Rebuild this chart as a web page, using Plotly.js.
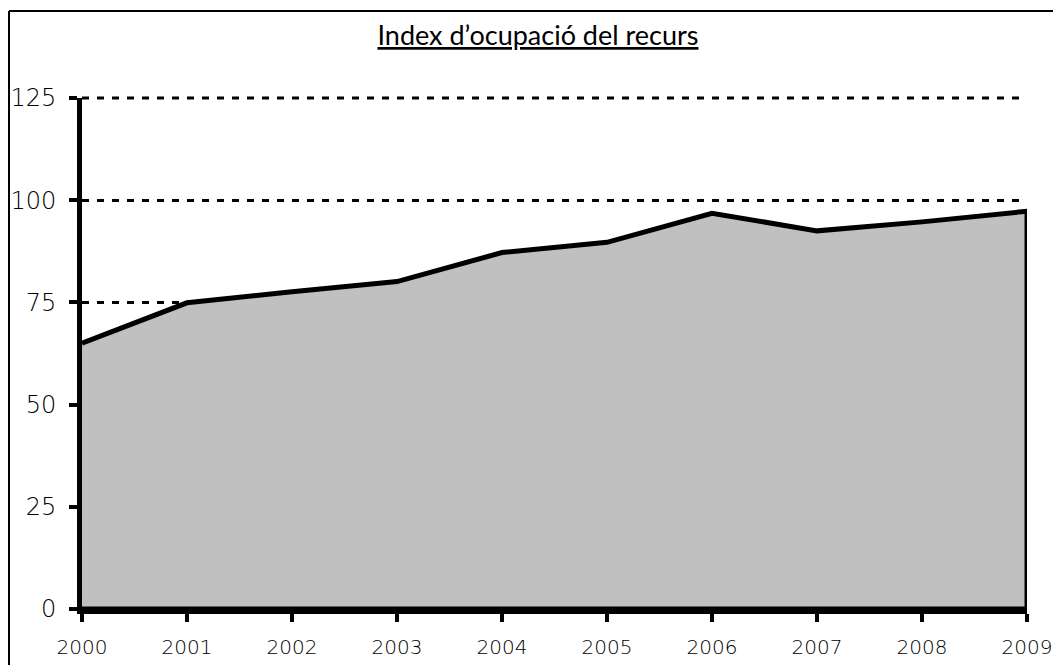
<!DOCTYPE html>
<html>
<head>
<meta charset="utf-8">
<script src="https://cdn.plot.ly/plotly-3.0.1.min.js"></script>
<style>html,body{margin:0;padding:0;background:#fff;}#chart{width:1053px;height:665px;}</style>
</head>
<body>
<div id="chart"></div>
<script>
const years = [2000, 2001, 2002, 2003, 2004, 2005, 2006, 2007, 2008, 2009];
const occupancy = [65, 74.9, 77.6, 80.1, 87.2, 89.7, 96.8, 92.5, 94.7, 97.3];
const yTicks = [0, 25, 50, 75, 100, 125];
const chartTitle = "Index d’ocupació del recurs";

const polyX = years.concat([years[years.length - 1], years[0]]);
const polyY = occupancy.concat([0, 0]);

const trace = {
  x: polyX,
  y: polyY,
  type: 'scatter',
  mode: 'lines',
  fill: 'toself',
  fillcolor: '#c0c0c0',
  line: {color: '#000', width: 5, shape: 'linear'},
  hoverinfo: 'skip'
};

const titleFont = 'Lato, "Open Sans", sans-serif';
const tickFont = '"DejaVu Sans", sans-serif';
const yMax = yTicks[yTicks.length - 1];

const layout = {
  width: 1053,
  height: 665,
  margin: {l: 82, r: 26, t: 98, b: 56, pad: 0},
  paper_bgcolor: '#fff',
  plot_bgcolor: '#fff',
  font: {color: '#000'},
  showlegend: false,
  title: {
    text: chartTitle,
    x: 0.4825, xref: 'paper', xanchor: 'center',
    y: 1 - 45 / 665, yref: 'container', yanchor: 'bottom',
    font: {family: titleFont, size: 27, color: '#000', lineposition: 'under'}
  },
  xaxis: {
    range: [2000, 2009],
    tickvals: years,
    ticktext: years.map(String),
    showgrid: false,
    zeroline: false,
    showline: true,
    linecolor: '#000',
    linewidth: 5,
    ticks: 'outside',
    ticklen: 8,
    tickwidth: 4,
    tickcolor: '#000',
    tickfont: {family: tickFont, size: 20, color: '#000', weight: 200},
    ticklabelstandoff: 8,
    fixedrange: true
  },
  yaxis: {
    range: [0, yMax],
    tickvals: yTicks,
    ticktext: yTicks.map(String),
    showgrid: true,
    gridcolor: '#000',
    gridwidth: 3,
    griddash: '7px,8px',
    zeroline: false,
    showline: true,
    linecolor: '#000',
    linewidth: 5,
    ticks: 'outside',
    ticklen: 8,
    tickwidth: 4,
    tickcolor: '#000',
    tickfont: {family: tickFont, size: 24, color: '#000', weight: 200},
    ticklabelstandoff: 8,
    fixedrange: true
  },
  shapes: [
    {type: 'line', xref: 'paper', yref: 'paper', x0: 0, x1: 1, y0: yMax / yMax, y1: yMax / yMax, layer: 'below',
     line: {color: '#000', width: 3, dash: '7px,8px'}},
    {type: 'line', xref: 'paper', yref: 'paper', x0: -73 / 945, x1: 1.2, y0: 598 / 511, y1: 598 / 511,
     line: {color: '#000', width: 2}},
    {type: 'line', xref: 'paper', yref: 'paper', x0: -73 / 945, x1: -73 / 945, y0: 598 / 511, y1: -0.3,
     line: {color: '#000', width: 2}}
  ]
};

Plotly.newPlot('chart', [trace], layout, {displayModeBar: false, staticPlot: true});
</script>
</body>
</html>
